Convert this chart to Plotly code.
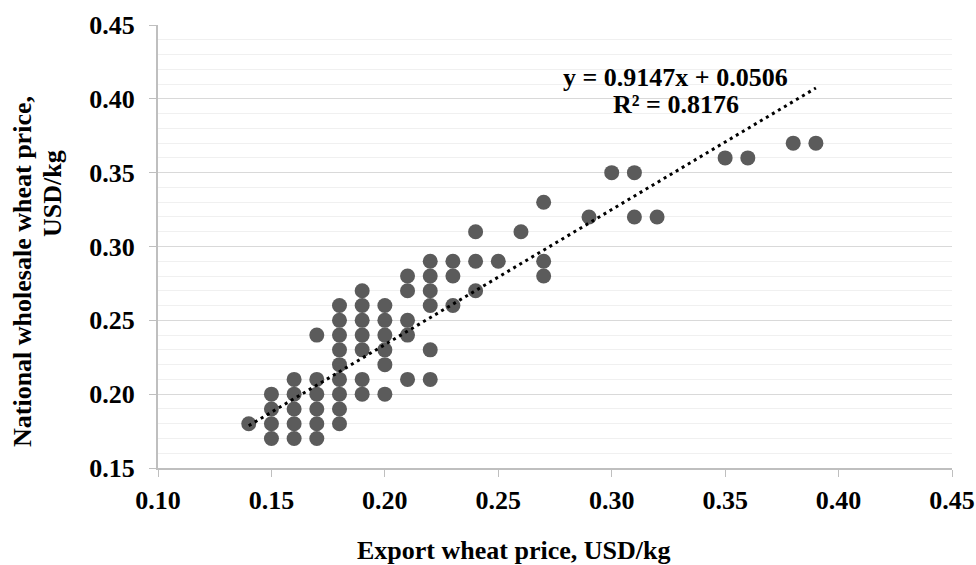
import plotly.graph_objects as go

# Data (export price, national wholesale price), USD/kg
export_price = [
    0.14,
    0.15, 0.15, 0.15, 0.15,
    0.16, 0.16, 0.16, 0.16, 0.16,
    0.17, 0.17, 0.17, 0.17, 0.17, 0.17,
    0.18, 0.18, 0.18, 0.18, 0.18, 0.18, 0.18, 0.18, 0.18,
    0.19, 0.19, 0.19, 0.19, 0.19, 0.19, 0.19,
    0.20, 0.20, 0.20, 0.20, 0.20, 0.20,
    0.21, 0.21, 0.21, 0.21, 0.21,
    0.22, 0.22, 0.22, 0.22, 0.22, 0.22,
    0.23, 0.23, 0.23,
    0.24, 0.24, 0.24,
    0.25,
    0.26,
    0.27, 0.27, 0.27,
    0.29,
    0.30,
    0.31, 0.31,
    0.32,
    0.35,
    0.36,
    0.38,
    0.39,
]
wholesale_price = [
    0.18,
    0.20, 0.19, 0.18, 0.17,
    0.21, 0.20, 0.19, 0.18, 0.17,
    0.24, 0.21, 0.20, 0.19, 0.18, 0.17,
    0.26, 0.25, 0.24, 0.23, 0.22, 0.21, 0.20, 0.19, 0.18,
    0.27, 0.26, 0.25, 0.24, 0.23, 0.21, 0.20,
    0.26, 0.25, 0.24, 0.23, 0.22, 0.20,
    0.28, 0.27, 0.25, 0.24, 0.21,
    0.29, 0.28, 0.27, 0.26, 0.23, 0.21,
    0.29, 0.28, 0.26,
    0.31, 0.29, 0.27,
    0.29,
    0.31,
    0.33, 0.29, 0.28,
    0.32,
    0.35,
    0.35, 0.32,
    0.32,
    0.36,
    0.36,
    0.37,
    0.37,
]

# Linear trendline as reported on the chart
slope = 0.9147
intercept = 0.0506
r_squared = 0.8176
trend_x = [min(export_price), max(export_price)]
trend_y = [slope * x + intercept for x in trend_x]

x_ticks = [0.10, 0.15, 0.20, 0.25, 0.30, 0.35, 0.40, 0.45]
y_ticks = [0.15, 0.20, 0.25, 0.30, 0.35, 0.40, 0.45]

x_title = "Export wheat price, USD/kg"
y_title_lines = ["National wholesale wheat price,", "USD/kg"]

FONT = "Liberation Serif, Times New Roman, serif"

W, H = 976, 565
ML, MR, MT, MB = 158, 24, 25, 97
PW, PH = W - ML - MR, H - MT - MB


def paper_x(px):
    return (px - ML) / PW


def paper_y(py):
    return (H - MB - py) / PH


fig = go.Figure()
fig.add_trace(go.Scatter(
    x=export_price, y=wholesale_price, mode="markers",
    marker=dict(size=15, color="#5b5b5b", line=dict(width=0)),
    showlegend=False, hoverinfo="x+y",
))
fig.add_trace(go.Scatter(
    x=trend_x, y=trend_y, mode="lines",
    line=dict(color="black", width=3, dash="3px,4px"),
    showlegend=False, hoverinfo="skip",
))

bold = dict(family=FONT, color="black", weight="bold")

# Trendline equation and R²
fig.add_annotation(
    xref="paper", yref="paper", x=paper_x(675), y=paper_y(77), xanchor="center", yanchor="middle",
    text=f"y = {slope}x + {intercept}", showarrow=False, font=dict(size=26, **bold),
)
fig.add_annotation(
    xref="paper", yref="paper", x=paper_x(676), y=paper_y(104), xanchor="center", yanchor="middle",
    text=f"R² = {r_squared}", showarrow=False, font=dict(size=26, **bold),
)

# Axis titles
fig.add_annotation(
    xref="paper", yref="paper", x=paper_x(513), y=paper_y(550), xanchor="center", yanchor="middle",
    text=x_title, showarrow=False, font=dict(size=26, **bold),
)
fig.add_annotation(
    xref="paper", yref="paper", x=paper_x(22), y=paper_y(272), xanchor="center", yanchor="middle",
    text=y_title_lines[0], textangle=-90, showarrow=False, font=dict(size=26, **bold),
)
fig.add_annotation(
    xref="paper", yref="paper", x=paper_x(52), y=paper_y(194), xanchor="center", yanchor="middle",
    text=y_title_lines[1], textangle=-90, showarrow=False, font=dict(size=26, **bold),
)

fig.update_layout(
    width=W, height=H,
    margin=dict(l=ML, r=MR, t=MT, b=MB, autoexpand=False),
    paper_bgcolor="white", plot_bgcolor="white",
    font=dict(family=FONT, size=26, color="black", weight="bold"),
    xaxis=dict(
        range=[0.10, 0.45], tickvals=x_ticks, ticktext=[f"{v:.2f}" for v in x_ticks],
        showgrid=False, zeroline=False, automargin=False,
        showline=True, linecolor="#bfbfbf", linewidth=2,
        ticks="outside", ticklen=7, tickcolor="#bfbfbf", tickwidth=1,
        ticklabelstandoff=1, ticklabeloverflow="allow",
    ),
    yaxis=dict(
        range=[0.15, 0.45], tickvals=y_ticks, ticktext=[f"{v:.2f}" for v in y_ticks],
        showgrid=True, gridcolor="#d9d9d9", gridwidth=1, zeroline=False, automargin=False,
        showline=True, linecolor="#bfbfbf", linewidth=2,
        ticks="outside", ticklen=7, tickcolor="#bfbfbf", tickwidth=1,
        ticklabelstandoff=9,
        minor=dict(dtick=0.01, showgrid=True, gridcolor="#f0f0f0", gridwidth=1, ticks=""),
    ),
)

# Remove the default page margin so the figure fills the 976x565 window exactly
fig.write_html(
    "out.html",
    config={"displayModeBar": False},
    post_script="document.body.style.margin='0';document.body.style.overflow='hidden';",
)
